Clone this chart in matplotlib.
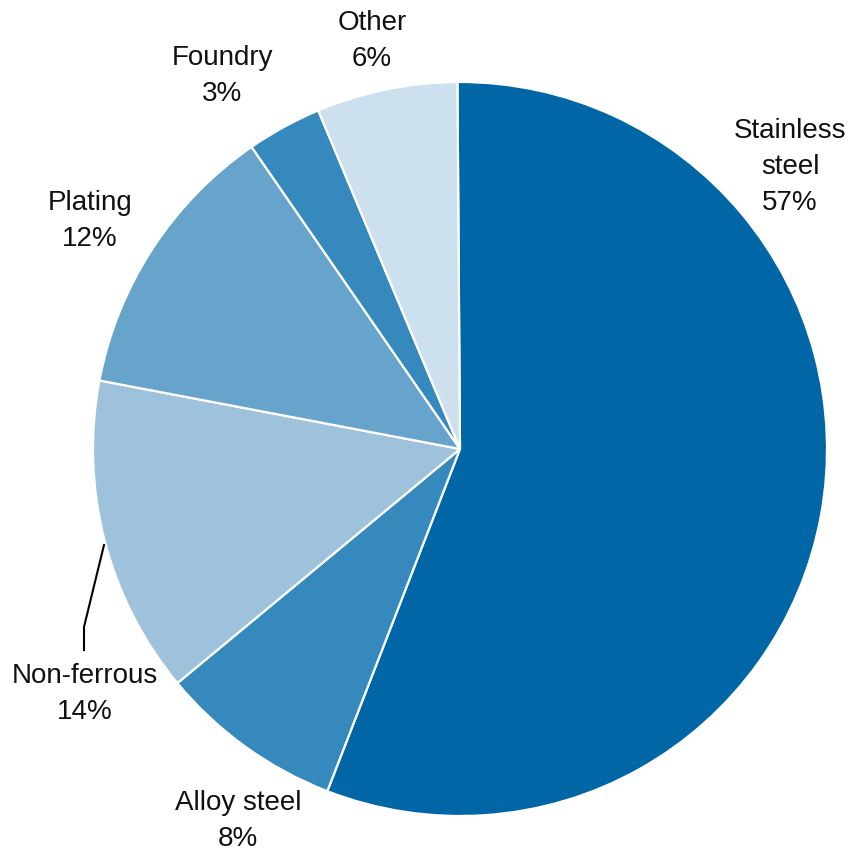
import matplotlib
matplotlib.use("Agg")
import matplotlib.pyplot as plt

plt.rcParams['font.family'] = ['Liberation Sans', 'DejaVu Sans']

categories = ["Stainless\nsteel", "Alloy steel", "Non-ferrous", "Plating", "Foundry", "Other"]
values = [56.0, 8.1, 14.0, 12.4, 3.3, 6.2]
pct_labels = ["57%", "8%", "14%", "12%", "3%", "6%"]
colors = ["#0066a6", "#3689bd", "#9ec2dc", "#67a4cb", "#3689bd", "#cce0ee"]

W, H = 852, 854
fig = plt.figure(figsize=(W / 100, H / 100), dpi=100)
ax = fig.add_axes([0, 0, 1, 1])

cx, cy, r = 460, H - 450, 367
ax.pie(values, colors=colors, startangle=90.4, counterclock=False,
       center=(cx, cy), radius=r,
       wedgeprops=dict(edgecolor='white', linewidth=1.6), frame=True)
ax.set_xlim(0, W)
ax.set_ylim(0, H)
ax.set_aspect('equal')
ax.axis('off')

# label positions (image pixel coords: x, y of text center)
label_pos = [(790, 167), (238, 821), (85, 694), (90, 221), (222, 76), (372, 41)]
for cat, pct, (x, y) in zip(categories, pct_labels, label_pos):
    ax.text(x, H - y, f"{cat}\n{pct}", ha='center', va='center',
            fontsize=20, linespacing=1.5, color='#111111')

# leader line for Non-ferrous
lx = [104, 84, 84]
ly = [546, 628, 651]
ax.plot(lx, [H - v for v in ly], color='black', linewidth=1.5)

fig.savefig("out.png", dpi=100)
